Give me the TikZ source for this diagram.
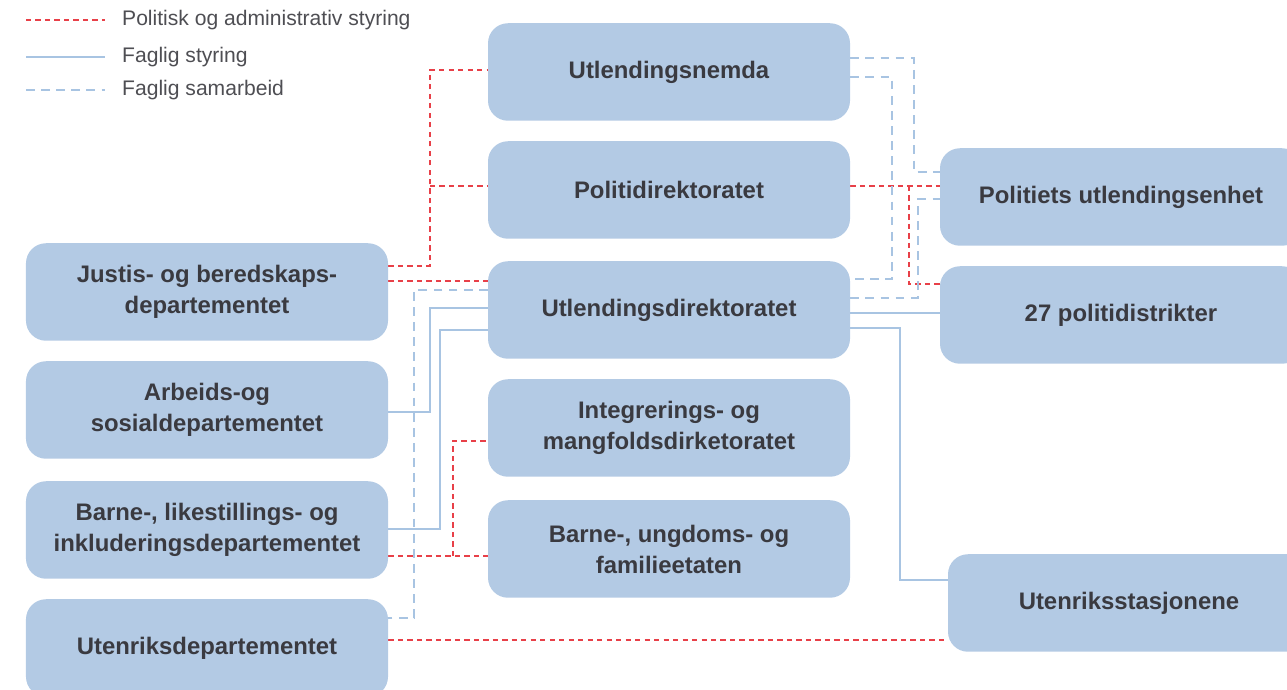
\documentclass[tikz,border=0pt]{standalone}
\usepackage{fontspec}
\setmainfont{Liberation Sans}
\usepackage{tikz}
\usetikzlibrary{calc,backgrounds,positioning}
\definecolor{boxblue}{RGB}{179,202,228}
\definecolor{linblue}{RGB}{168,196,226}
\definecolor{polred}{RGB}{232,64,72}
\definecolor{txtgray}{RGB}{58,58,64}

\begin{document}
\begin{tikzpicture}[x=0.2mm,y=-0.2mm,
  org/.style={fill=boxblue,rounded corners=4mm,minimum width=72.4mm,minimum height=19.5mm,align=center,text=txtgray,font=\fontsize{13.6}{17.6}\selectfont\bfseries},
  pol/.style={polred,line width=0.7pt,dash pattern=on 3pt off 2.4pt},
  fagsam/.style={linblue,line width=1.1pt,dash pattern=on 5pt off 3.6pt},
  fagsty/.style={linblue,line width=1.1pt},
  legtxt/.style={anchor=west,text=txtgray!90,font=\fontsize{12}{14}\selectfont}]
\useasboundingbox (0,0) rectangle (1287,690);
% departementene
\node[org] (jbd) at (207,292) {Justis- og beredskaps-\\departementet};
\node[org] (asd) at (207,410) {Arbeids-og\\sosialdepartementet};
\node[org] (bld) at (207,530) {Barne-, likestillings- og\\inkluderingsdepartementet};
\node[org] (ud) at (207,648) {Utenriksdepartementet};
% direktorater
\node[org] (une) at (669,72) {Utlendingsnemda};
\node[org] (pod) at (669,190) {Politidirektoratet};
\node[org] (udi) at (669,310) {Utlendingsdirektoratet};
\node[org] (imdi) at (669,428) {Integrerings- og\\mangfoldsdirketoratet};
\node[org] (bufetat) at (669,549) {Barne-, ungdoms- og\\familieetaten};
% ytre etater
\node[org] (pu) at (1121,197) {Politiets utlendingsenhet};
\node[org] (pd) at (1121,315) {27 politidistrikter};
\node[org] (us) at (1129,603) {Utenriksstasjonene};
% tegnforklaring
\node[legtxt] (lg1) at (116,20) {Politisk og administrativ styring};
\node[legtxt] (lg2) at (116,57) {Faglig styring};
\node[legtxt] (lg3) at (116,90) {Faglig samarbeid};
\draw[pol] ($(lg1.west)+(-90,0)$) -- ($(lg1.west)+(-11,0)$);
\draw[fagsty,line width=0.8pt] ($(lg2.west)+(-90,0)$) -- ($(lg2.west)+(-11,0)$);
\draw[fagsam,line width=0.8pt] ($(lg3.west)+(-90,0)$) -- ($(lg3.west)+(-11,0)$);

\begin{scope}[on background layer]
% politisk og administrativ styring
\draw[pol] (jbd.east |- 0,266) -| (430,70) -- (une.west |- 0,70);
\draw[pol] (430,186) -- (pod.west |- 0,186);
\draw[pol] (jbd.east |- 0,281) -- (udi.west |- 0,281);
\draw[pol] (pod.east |- 0,186) -- (pu.west |- 0,186);
\draw[pol] (909,186) |- (pd.west |- 0,284);
\draw[pol] (bld.east |- 0,556) -- (bufetat.west |- 0,556);
\draw[pol] (453,556) |- (imdi.west |- 0,441);
\draw[pol] (ud.east |- 0,640) -- (us.west |- 0,640);
% faglig samarbeid
\draw[fagsam] (une.east |- 0,58) -| (914,172) -- (pu.west |- 0,172);
\draw[fagsam] (une.east |- 0,77) -| (892,279) -- (udi.east |- 0,279);
\draw[fagsam] (udi.east |- 0,298) -| (918,199) -- (pu.west |- 0,199);
\draw[fagsam] (udi.west |- 0,290) -| (414,618) -- (ud.east |- 0,618);
% faglig styring
\draw[fagsty] (udi.east |- 0,313) -- (pd.west |- 0,313);
\draw[fagsty] (udi.east |- 0,328) -| (900,580) -- (us.west |- 0,580);
\draw[fagsty] (asd.east |- 0,412) -| (430,308) -- (udi.west |- 0,308);
\draw[fagsty] (bld.east |- 0,529) -| (440,330) -- (udi.west |- 0,330);
\end{scope}
\end{tikzpicture}
\end{document}
